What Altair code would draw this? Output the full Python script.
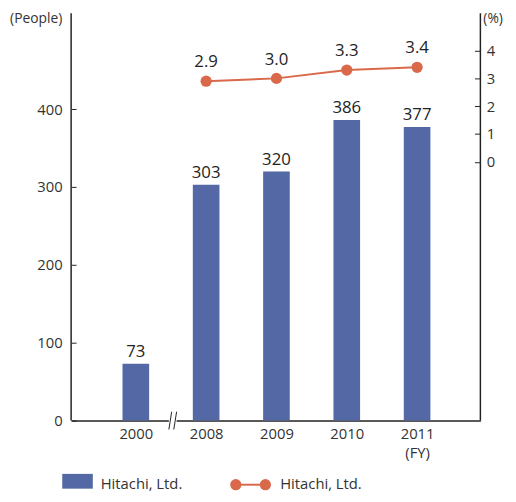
import json
import altair as alt
import pandas as pd

years = ["2000", "2008", "2009", "2010", "2011"]
people = [73, 303, 320, 386, 377]
rate_years = ["2008", "2009", "2010", "2011"]
rate = [2.9, 3.0, 3.3, 3.4]
legend_label = "Hitachi, Ltd."

BAR = "#5368a5"
LINE = "#d9694a"
FONT = "Open Sans"
W, H = 415, 413

bars_df = pd.DataFrame({"pos": list(range(len(years))), "year": years, "people": people})
rate_df = pd.DataFrame({"pos": [years.index(y) for y in rate_years], "year": rate_years,
                        "rate": rate, "label": [f"{r:.1f}" for r in rate]})

tick_labels = years[:-1] + [[years[-1], "(FY)"]]
label_expr = json.dumps(tick_labels) + "[datum.value]"

xscale = alt.Scale(domain=[-0.85, 4.83], nice=False, zero=False)
xaxis = alt.Axis(values=list(range(len(years))), labelExpr=label_expr, title=None,
                 ticks=False, grid=False, domainColor="#222", domainWidth=1.5,
                 labelFont=FONT, labelFontSize=15, labelColor="#333", labelPadding=6,
                 labelLineHeight=19)

left_axis = alt.Axis(values=[0, 100, 200, 300, 400], title=None, grid=False, domain=False,
                     tickSize=5, offset=-5, tickColor="#222", labelPadding=9,
                     labelFont=FONT, labelFontSize=15, labelColor="#333")
right_axis = alt.Axis(values=[0, 1, 2, 3, 4], title=None, grid=False, domain=False,
                      orient="right", tickSize=6, offset=-6, tickColor="#222", labelPadding=6,
                      labelFont=FONT, labelFontSize=15, labelColor="#333")

yl = alt.Scale(domain=[0, 523], nice=False, zero=False)
yr = alt.Scale(domain=[-9.31, 5.34], nice=False, zero=False)

bars = alt.Chart(bars_df).mark_bar(color=BAR, size=27).encode(
    x=alt.X("pos:Q", scale=xscale, axis=xaxis),
    y=alt.Y("people:Q", scale=yl, axis=left_axis),
)
bar_text = alt.Chart(bars_df).mark_text(baseline="bottom", dy=-3, font=FONT, fontSize=17,
                                        color="#222").encode(
    x=alt.X("pos:Q", scale=xscale), y=alt.Y("people:Q", scale=yl),
    text="people:Q")

one = pd.DataFrame({"k": [0]})
left_line = alt.Chart(one).mark_rule(color="#222", strokeWidth=1.5).encode(
    x=alt.value(0), y=alt.value(0), y2=alt.value(H))
right_line = alt.Chart(one).mark_rule(color="#222", strokeWidth=1.5).encode(
    x=alt.value(W), y=alt.value(0), y2=alt.value(H))

brk = pd.DataFrame({"a": [0.47, 0.54], "b": [0.51, 0.58]})
break_gap = alt.Chart(pd.DataFrame({"a": [0.47], "b": [0.58]})).mark_rect(color="white").encode(
    x=alt.X("a:Q", scale=xscale), x2="b:Q", y=alt.value(H - 3), y2=alt.value(H + 3))
break_lines = alt.Chart(brk).mark_rule(color="#222", strokeWidth=1).encode(
    x=alt.X("a:Q", scale=xscale), x2="b:Q", y=alt.value(H + 9), y2=alt.value(H - 9))

titles = alt.Chart(pd.DataFrame({"t": ["(People)"]})).mark_text(
    align="right", baseline="middle", font=FONT, fontSize=14, color="#333").encode(
    x=alt.value(-9), y=alt.value(6), text="t:N")
titles_r = alt.Chart(pd.DataFrame({"t": ["(%)"]})).mark_text(
    align="left", baseline="middle", font=FONT, fontSize=14, color="#333").encode(
    x=alt.value(418), y=alt.value(6), text="t:N")

leg_rect = alt.Chart(one).mark_rect(color=BAR).encode(
    x=alt.value(-9), x2=alt.value(22), y=alt.value(467), y2=alt.value(482))
leg_text = alt.Chart(pd.DataFrame({"t": [legend_label, legend_label], "x": [30, 212]})).mark_text(
    align="left", baseline="middle", font=FONT, fontSize=15, color="#333").encode(
    x=alt.X("x:Q", scale=None), y=alt.value(477), text="t:N")
leg_line = alt.Chart(one).mark_rule(color=LINE, strokeWidth=2).encode(
    x=alt.value(167), x2=alt.value(197), y=alt.value(478))
leg_pts = alt.Chart(pd.DataFrame({"x": [167, 197]})).mark_point(
    filled=True, color=LINE, size=130, opacity=1).encode(
    x=alt.X("x:Q", scale=None), y=alt.value(478))

left = alt.layer(bars, bar_text, left_line, right_line, break_gap, break_lines,
                 titles, titles_r, leg_rect, leg_text, leg_line, leg_pts)

line = alt.Chart(rate_df).mark_line(color=LINE, strokeWidth=2).encode(
    x=alt.X("pos:Q", scale=xscale), y=alt.Y("rate:Q", scale=yr, axis=right_axis))
pts = alt.Chart(rate_df).mark_point(filled=True, color=LINE, size=130, opacity=1).encode(
    x=alt.X("pos:Q", scale=xscale), y=alt.Y("rate:Q", scale=yr))
pt_text = alt.Chart(rate_df).mark_text(baseline="bottom", dy=-10, font=FONT, fontSize=17,
                                       color="#222").encode(
    x=alt.X("pos:Q", scale=xscale), y=alt.Y("rate:Q", scale=yr), text="label:N")
right = alt.layer(line, pts, pt_text)

chart = alt.layer(left, right).resolve_scale(y="independent").properties(
    width=W, height=H,
    autosize=alt.AutoSizeParams(type="none"),
    padding={"left": 64, "top": 2, "right": 28, "bottom": 70},
).configure_view(stroke=None)

chart.save("out.html", embed_options={"renderer": "svg", "actions": False})
